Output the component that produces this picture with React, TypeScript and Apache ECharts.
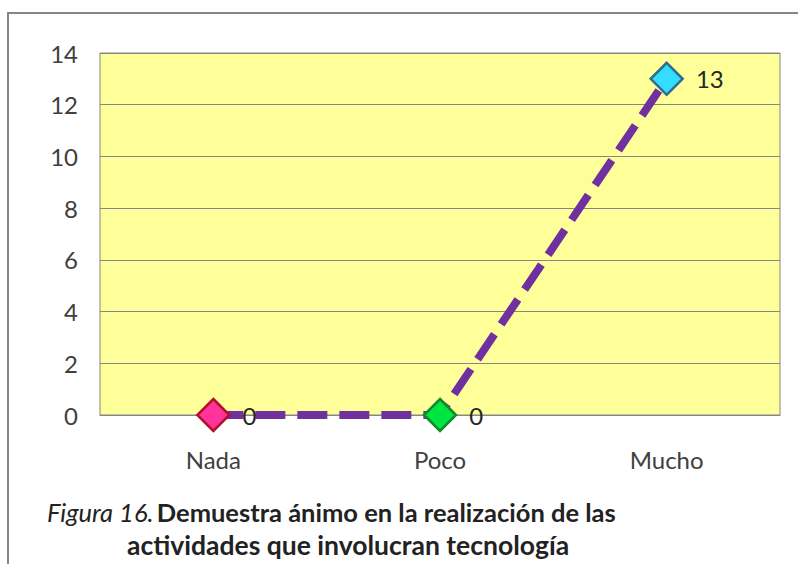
import React, { useEffect, useRef } from "react";
import * as echarts from "echarts";

const categories = ["Nada", "Poco", "Mucho"];
const values = [0, 0, 13];
const yTicks = [0, 2, 4, 6, 8, 10, 12, 14];
const markerFills = ["#FF3399", "#00E640", "#33DDFF"];
const markerBorders = ["#B0102A", "#138A2A", "#2F6B8A"];

export default function App() {
  const ref = useRef<HTMLDivElement>(null);
  useEffect(() => {
    if (!ref.current) return;
    const chart = echarts.init(ref.current, null, { renderer: "svg" });
    const font = "Lato, 'Open Sans', sans-serif";
    chart.setOption({
      animation: false,
      backgroundColor: "#ffffff",
      grid: {
        left: 100,
        top: 53,
        right: 18,
        bottom: 149,
        show: true,
        backgroundColor: "#FFFF99",
        borderColor: "#868686",
        borderWidth: 1,
      },
      xAxis: {
        type: "category",
        data: categories,
        boundaryGap: true,
        axisLine: { lineStyle: { color: "#868686" } },
        axisTick: { show: false },
        axisLabel: { color: "#404040", fontSize: 24, fontFamily: font, margin: 32 },
      },
      yAxis: {
        type: "value",
        min: yTicks[0],
        max: yTicks[yTicks.length - 1],
        interval: 2,
        axisLine: { show: false },
        axisTick: { show: false },
        splitLine: { lineStyle: { color: "#868686", width: 1 } },
        axisLabel: { color: "#404040", fontSize: 24, fontFamily: font, margin: 22 },
      },
      series: [
        {
          type: "line",
          data: values.map((v, i) => ({
            value: v,
            itemStyle: {
              color: markerFills[i],
              borderColor: markerBorders[i],
              borderWidth: 2.5,
            },
          })),
          symbol: "diamond",
          symbolSize: 32,
          lineStyle: { color: "#7030A0", width: 8, type: [30, 12] },
          label: {
            show: true,
            position: "right",
            distance: 12,
            color: "#262626",
            fontSize: 24,
            fontFamily: font,
          },
          z: 3,
        },
      ],
      graphic: [
        {
          type: "rect",
          shape: { x: 8, y: 13, width: 820, height: 600 },
          style: { fill: "none", stroke: "#868686", lineWidth: 2 },
          silent: true,
          z: -1,
        },
        {
          type: "text",
          left: 47,
          top: 499,
          style: {
            text: "{i|Figura 16.} {b|Demuestra ánimo en la realización de las}",
            rich: {
              i: { fontStyle: "italic", fontSize: 25.5, fontFamily: font, fill: "#222" },
              b: { fontWeight: "bold", fontSize: 25.5, fontFamily: font, fill: "#222" },
            },
          },
        },
        {
          type: "text",
          left: 127,
          top: 531,
          style: {
            text: "actividades que involucran tecnología",
            fontWeight: "bold",
            fontSize: 26.5,
            fontFamily: font,
            fill: "#222",
          },
        },
      ],
    });
    return () => chart.dispose();
  }, []);
  return (
    <div
      ref={ref}
      style={{ position: "fixed", left: 0, top: 0, width: 798, height: 564 }}
    />
  );
}
